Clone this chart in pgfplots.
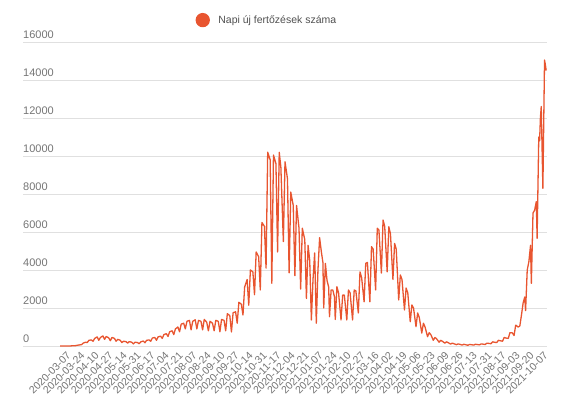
\documentclass[border=0pt]{standalone}
\usepackage{fontspec}
\setmainfont{Liberation Sans}
\usepackage{pgfplots}
\pgfplotsset{compat=1.18}
\definecolor{lc}{RGB}{232,85,48}
\definecolor{tickc}{RGB}{117,117,117}
\definecolor{legc}{RGB}{80,80,80}
\definecolor{gridc}{RGB}{224,224,224}
\begin{document}
\begin{tikzpicture}
\path[use as bounding box] (0,0) rectangle (575pt,408pt);
\begin{axis}[
  at={(23pt,62pt)}, anchor=south west,
  scale only axis, width=524pt, height=304pt,
  xmin=-57, xmax=579, ymin=0, ymax=16000,
  scaled y ticks=false,
  axis line style={draw=none},
  major tick length=0pt,
  ymajorgrids, grid style={color=gridc, line width=1pt},
  ytick={0,2000,4000,6000,8000,10000,12000,14000,16000},
  yticklabels={0,2000,4000,6000,8000,10000,12000,14000,16000},
  yticklabel style={anchor=south west, inner sep=0pt, yshift=3.5pt, font=\fontsize{11}{13}\selectfont, text=tickc},
  xtick={0,17,34,51,68,85,102,119,136,153,170,187,204,221,238,255,272,289,306,323,340,357,374,391,408,425,442,459,476,493,511,528,545,562,579},
  xticklabels={2020-03-07,2020-03-24,2020-04-10,2020-04-27,2020-05-14,2020-05-31,2020-06-17,2020-07-04,2020-07-21,2020-08-07,2020-08-24,2020-09-10,2020-09-27,2020-10-14,2020-10-31,2020-11-17,2020-12-04,2020-12-21,2021-01-07,2021-01-24,2021-02-10,2021-02-27,2021-03-16,2021-04-02,2021-04-19,2021-05-06,2021-05-23,2021-06-09,2021-06-26,2021-07-13,2021-07-31,2021-08-17,2021-09-03,2021-09-20,2021-10-07},
  xticklabel style={font=\fontsize{10.5}{12}\selectfont, text=tickc, inner sep=0pt, xshift=-1pt, yshift=-8pt, rotate=45, anchor=east},
  legend style={at={(axis description cs:0.329,1.072)}, anchor=west, draw=none, fill=none, inner sep=0pt, font=\fontsize{10.5}{12}\selectfont, text=legc, nodes={inner sep=0pt}, /tikz/every odd column/.append style={column sep=8.5pt}},
  legend image code/.code={\fill[lc] (6.5pt,0pt) circle (6.5pt);},
]
\addplot[lc, line width=1.3pt, line join=round] coordinates {
(-12,0) (-8,1) (-4,2) (0,3) (2,8) (5,15) (7,20) (9,40) (12,60) (14,70) (16,150) (19,200) (21,180) (23,300) (26,320) (28,250) (30,400) (33,480) (35,300) (37,450) (40,530) (42,350) (44,500) (47,430) (49,280) (51,450) (54,400) (56,250) (58,350) (61,300) (63,180) (65,250) (68,230) (70,150) (72,230) (75,200) (77,110) (79,200) (82,180) (84,120) (86,220) (89,260) (91,170) (93,300) (96,320) (98,250) (100,420) (103,450) (105,300) (107,480) (110,520) (112,400) (114,600) (117,650) (119,500) (121,750) (124,800) (126,600) (128,900) (131,1000) (133,750) (135,1150) (138,1200) (140,900) (142,1300) (145,1350) (147,850) (149,1300) (152,1380) (154,900) (156,1350) (159,1300) (161,850) (163,1400) (166,1250) (168,800) (170,1300) (173,1200) (175,800) (177,1350) (180,1300) (182,750) (184,1400) (187,1350) (189,800) (191,1700) (194,1600) (196,740) (198,1750) (201,1800) (203,1200) (205,2300) (208,2200) (210,1630) (212,3100) (215,3500) (217,2150) (219,4000) (222,3900) (224,2700) (226,4950) (229,4700) (231,2950) (233,6500) (236,6300) (238,4100) (240,10200) (243,9800) (245,3300) (247,10050) (250,9600) (252,4950) (254,10200) (256,9400) (259,5500) (261,9700) (264,8800) (266,3850) (268,8100) (271,7400) (273,3700) (275,7400) (278,6200) (280,3000) (282,6200) (285,5600) (287,2500) (289,5300) (291,4500) (293,1370) (295,3500) (297,4900) (299,1200) (301,4000) (303,5700) (305,5000) (307,4400) (308,2000) (310,4350) (312,3450) (314,3100) (315,1540) (317,2950) (319,2950) (321,2600) (322,1400) (324,3120) (326,2800) (329,1370) (331,2680) (333,2680) (336,1370) (338,2950) (340,2800) (343,1370) (345,2950) (347,2900) (350,1740) (352,3900) (354,3600) (357,2330) (359,4350) (361,4400) (364,2330) (366,5230) (368,5100) (371,2950) (373,6200) (375,6100) (378,3840) (380,6630) (382,6300) (385,3900) (387,6280) (389,5900) (392,3500) (394,5400) (396,5100) (399,2420) (401,3740) (403,3500) (406,1900) (408,3050) (410,2800) (413,1280) (415,2160) (417,2000) (420,1020) (422,1740) (424,1500) (427,680) (429,1200) (431,1000) (434,490) (436,700) (438,600) (441,300) (443,450) (445,380) (448,200) (450,300) (452,250) (455,150) (457,220) (459,180) (462,100) (464,150) (466,120) (469,70) (471,110) (473,90) (476,50) (478,90) (480,70) (483,40) (485,80) (487,70) (490,50) (492,90) (494,80) (497,60) (499,110) (501,100) (504,80) (506,150) (508,140) (511,120) (513,220) (515,200) (518,180) (520,300) (522,280) (525,250) (527,450) (529,420) (532,400) (534,700) (537,690) (539,550) (541,1100) (544,1000) (546,1050) (548,1630) (550,2260) (552,2580) (553,1860) (555,4000) (557,4440) (559,5300) (560,3300) (562,7000) (564,7150) (566,7600) (567,5670) (569,11000) (570,10800) (571,12000) (572,12600) (574,8300) (576,15050) (577,14800) (578,14500)
};
\addlegendentry{Napi új fertőzések száma}
\end{axis}
\end{tikzpicture}
\end{document}
